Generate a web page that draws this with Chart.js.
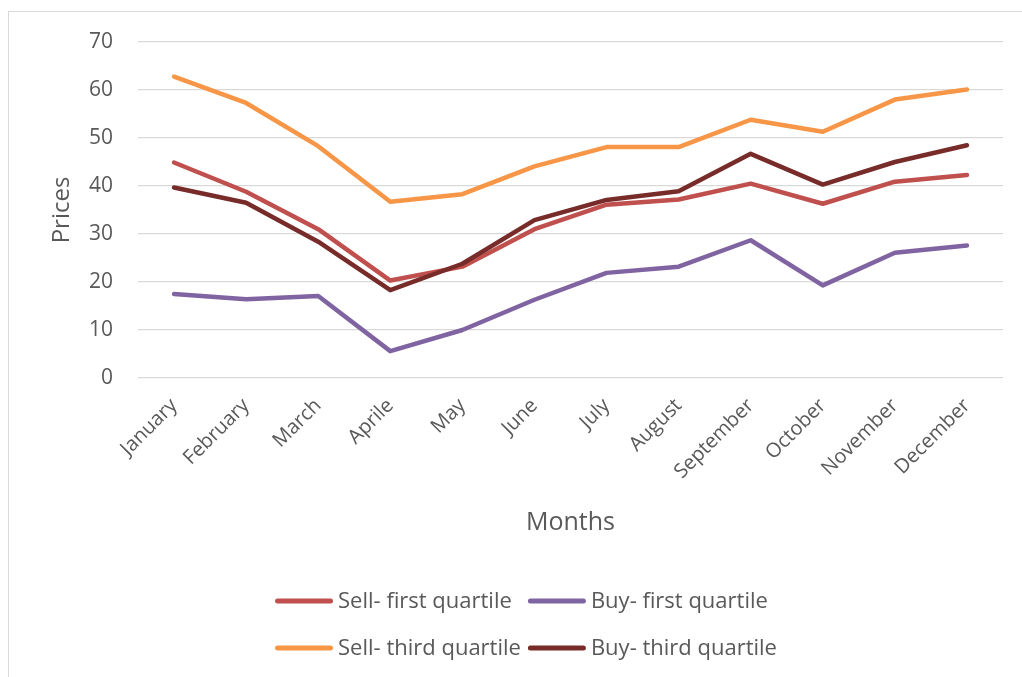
<!DOCTYPE html>
<html>
<head>
<meta charset="utf-8">
<script src="https://cdn.jsdelivr.net/npm/chart.js@4/dist/chart.umd.min.js"></script>
<style>
  html, body { margin: 0; padding: 0; background: #fff; }
  #wrap { position: relative; width: 1022px; height: 677px; overflow: hidden; }
  #frame { position: absolute; left: 8px; top: 11px; width: 1100px; height: 800px; border: 1.3px solid #d9d9d9; }
  #myChart { position: absolute; left: 0; top: 0; }
</style>
</head>
<body>
<div id="wrap">
  <div id="frame"></div>
  <canvas id="myChart" width="1022" height="677"></canvas>
</div>
<script>
// data
const months = ['January', 'February', 'March', 'Aprile', 'May', 'June', 'July',
  'August', 'September', 'October', 'November', 'December'];
const sellFirst = [44.9, 38.8, 31.0, 20.3, 23.2, 31.0, 36.1, 37.2, 40.5, 36.3, 40.9, 42.3];
const buyFirst = [17.5, 16.4, 17.1, 5.6, 10.0, 16.3, 21.9, 23.2, 28.7, 19.3, 26.1, 27.6];
const sellThird = [62.8, 57.3, 48.3, 36.7, 38.3, 44.1, 48.1, 48.1, 53.8, 51.3, 58.0, 60.1];
const buyThird = [39.7, 36.5, 28.4, 18.3, 23.8, 32.9, 37.1, 38.9, 46.7, 40.3, 45.0, 48.5];
const yTicks = [0, 10, 20, 30, 40, 50, 60, 70];

const textColor = '#595959';
Chart.defaults.font.family = '"Open Sans", sans-serif';
Chart.defaults.color = textColor;

function line(label, data, color, order) {
  return {
    label,
    data,
    borderColor: color,
    backgroundColor: color,
    borderWidth: 4.5,
    borderCapStyle: 'round',
    borderJoinStyle: 'round',
    pointRadius: 0,
    tension: 0,
    fill: false,
    order, // lower order is drawn on top, like later series in the original
  };
}

// legend in two rows of two, drawn on the canvas
const gridLegend = {
  id: 'gridLegend',
  afterDraw(chart) {
    const ctx = chart.ctx;
    const ds = chart.data.datasets;
    const swatch = 58, gap = 5, colGap = 7;
    const rows = [601, 648];
    ctx.save();
    ctx.font = '22px "Open Sans", sans-serif';
    ctx.textBaseline = 'middle';
    ctx.fillStyle = textColor;
    const colW = [0, 1].map((c) =>
      swatch + gap + Math.max(ctx.measureText(ds[c].label).width, ctx.measureText(ds[c + 2].label).width)
    );
    const total = colW[0] + colGap + colW[1];
    const startX = (chart.width + 30) / 2 - total / 2;
    ds.forEach((d, i) => {
      const col = i % 2;
      const row = Math.floor(i / 2);
      const x = startX + (col ? colW[0] + colGap : 0);
      const y = rows[row];
      ctx.strokeStyle = d.borderColor;
      ctx.lineWidth = 5;
      ctx.lineCap = 'round';
      ctx.beginPath();
      ctx.moveTo(x + 2.5, y);
      ctx.lineTo(x + swatch - 2.5, y);
      ctx.stroke();
      ctx.fillText(d.label, x + swatch + gap, y + 1);
    });
    ctx.restore();
  },
};

const ctx = document.getElementById('myChart');
new Chart(ctx, {
  type: 'line',
  data: {
    labels: months,
    datasets: [
      line('Sell- first quartile', sellFirst, '#C0504D', 3),
      line('Buy- first quartile', buyFirst, '#8064A2', 2),
      line('Sell- third quartile', sellThird, '#F79646', 1),
      line('Buy- third quartile', buyThird, '#772C2A', 0),
    ],
  },
  options: {
    responsive: false,
    animation: false,
    layout: { padding: { top: 42, right: 19, left: 36, bottom: 129 } },
    scales: {
      x: {
        offset: true,
        grid: { display: false },
        border: { display: false },
        ticks: {
          autoSkip: false,
          minRotation: 45,
          maxRotation: 45,
          padding: 8,
          font: { size: 20 },
          color: textColor,
        },
        title: {
          display: true,
          text: 'Months',
          font: { size: 25 },
          color: textColor,
          padding: { top: 0, bottom: 10 },
        },
        afterFit(scale) { scale.height = 170; },
      },
      y: {
        min: 0,
        max: 70,
        afterBuildTicks(scale) { scale.ticks = yTicks.map((v) => ({ value: v })); },
        grid: { color: '#d9d9d9', lineWidth: 1.3, drawTicks: false },
        border: { display: false },
        ticks: { padding: 25, font: { size: 21 }, color: textColor },
        title: {
          display: true,
          text: 'Prices',
          font: { size: 24 },
          color: textColor,
          padding: { top: 12, bottom: 0 },
        },
        afterFit(scale) { scale.width = 102; },
      },
    },
    plugins: {
      legend: { display: false },
      tooltip: { enabled: false },
    },
  },
  plugins: [gridLegend],
});
</script>
</body>
</html>
